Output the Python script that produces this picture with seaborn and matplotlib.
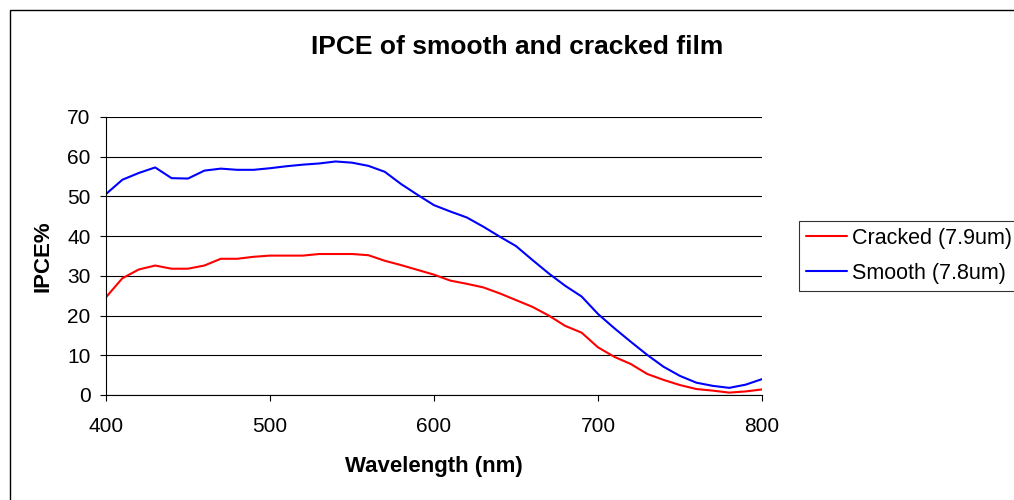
import numpy as np
import pandas as pd
import matplotlib
matplotlib.use("Agg")
import matplotlib.pyplot as plt
import seaborn as sns
from matplotlib.patches import Rectangle

wavelength = [400, 410, 420, 430, 440, 450, 460, 470, 480, 490,
              500, 510, 520, 530, 540, 550, 560, 570, 580, 590,
              600, 610, 620, 630, 640, 650, 660, 670, 680, 690,
              700, 710, 720, 730, 740, 750, 760, 770, 780, 790, 800]

cracked = [24.6, 29.4, 31.6, 32.6, 31.8, 31.8, 32.6, 34.3, 34.3, 34.8,
           35.1, 35.1, 35.1, 35.5, 35.5, 35.5, 35.2, 33.8, 32.7, 31.5,
           30.3, 28.8, 28.0, 27.1, 25.6, 23.9, 22.2, 20.0, 17.4, 15.7,
           12.0, 9.6, 7.8, 5.3, 3.8, 2.5, 1.5, 1.1, 0.6, 0.9, 1.4]

smooth = [50.6, 54.2, 55.9, 57.3, 54.6, 54.5, 56.5, 57.0, 56.7, 56.7,
          57.1, 57.6, 58.0, 58.3, 58.8, 58.5, 57.7, 56.2, 53.1, 50.4,
          47.8, 46.2, 44.7, 42.4, 39.9, 37.5, 34.0, 30.6, 27.5, 24.8,
          20.4, 16.8, 13.4, 10.1, 7.1, 4.8, 3.1, 2.3, 1.8, 2.6, 4.0]

series_names = ["Cracked (7.9um)", "Smooth (7.8um)"]
series_colors = ["#FF0000", "#0000FF"]

df = pd.concat([
    pd.DataFrame({"Wavelength": wavelength, "IPCE": cracked, "Film": series_names[0]}),
    pd.DataFrame({"Wavelength": wavelength, "IPCE": smooth, "Film": series_names[1]}),
])

sns.set_style("white")
plt.rcParams["font.family"] = ["Liberation Sans", "DejaVu Sans"]
plt.rcParams["text.color"] = "black"
plt.rcParams["axes.labelcolor"] = "black"
plt.rcParams["xtick.color"] = "black"
plt.rcParams["ytick.color"] = "black"

fig = plt.figure(figsize=(10.14, 5.0), dpi=100)
fig.patch.set_facecolor("white")
ax = fig.add_axes([0.1045, 0.21, 0.647, 0.556])

sns.lineplot(data=df, x="Wavelength", y="IPCE", hue="Film",
             palette=dict(zip(series_names, series_colors)),
             linewidth=1.5, ax=ax, legend=True)

ax.set_xlim(400, 800)
ax.set_ylim(0, 70)
ax.set_xticks([400, 500, 600, 700, 800])
ax.set_yticks(range(0, 71, 10))
ax.yaxis.grid(True, color="black", linewidth=0.8)
ax.xaxis.grid(False)
ax.set_axisbelow(True)
for side in ["top", "right"]:
    ax.spines[side].set_visible(False)
for side in ["left", "bottom"]:
    ax.spines[side].set_color("black")
    ax.spines[side].set_linewidth(0.8)
ax.tick_params(axis="both", direction="out", length=4, width=0.8,
               color="black", labelsize=15, labelcolor="black")
ax.tick_params(axis="x", pad=12)
ax.tick_params(axis="y", pad=7)
ax.tick_params(axis="both", which="both", bottom=True, left=True)

ax.set_xlabel("Wavelength (nm)", fontsize=16, fontweight="bold", labelpad=14)
ax.set_ylabel("IPCE%", fontsize=16, fontweight="bold", labelpad=10)

fig.text(0.51, 0.906, "IPCE of smooth and cracked film", ha="center", va="center",
         fontsize=19, fontweight="bold")

handles, labels = ax.get_legend_handles_labels()
ax.legend(handles, labels, loc="center left", bbox_to_anchor=(1.056, 0.5),
          frameon=True, fancybox=False, edgecolor="black", fontsize=15.5,
          handlelength=1.9, handletextpad=0.25, borderpad=0.33,
          labelspacing=0.65, borderaxespad=0)
leg = ax.get_legend()
leg.get_frame().set_linewidth(0.8)

fig.patches.append(Rectangle((10 / 1014, -0.1), 1.2, 1.1 - 10 / 500,
                             transform=fig.transFigure, fill=False,
                             edgecolor="black", linewidth=1.0))

fig.savefig("out.png", dpi=100)
